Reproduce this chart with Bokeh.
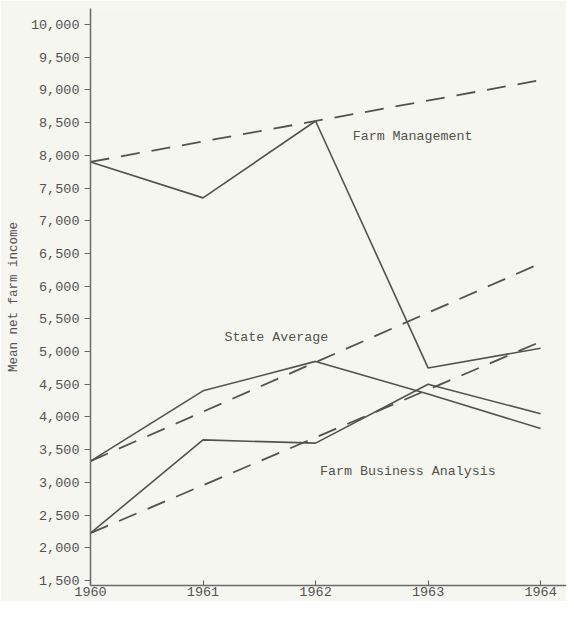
from bokeh.plotting import figure
from bokeh.models import FixedTicker, NumeralTickFormatter, Range1d
from bokeh.core.properties import value
from bokeh.embed import file_html
from bokeh.resources import INLINE

# ---- data ----
years = [1960, 1961, 1962, 1963, 1964]
farm_management = [7900, 7350, 8525, 4750, 5050]
state_average = [3325, 4400, 4850, 4350, 3825]
farm_business = [2225, 3650, 3600, 4500, 4050]

trend_years = [1960, 1964]
farm_management_trend = [7900, 9150]
state_average_trend = [3325, 6350]
farm_business_trend = [2225, 5150]

y_ticks = list(range(1500, 10001, 500))
x_ticks = [1960, 1961, 1962, 1963, 1964]
series_labels = ["Farm Management", "State Average", "Farm Business Analysis"]

FONT = "Liberation Mono"
INK = "#525252"
BG = "#f6f6f0"

p = figure(width=566, height=601, output_backend="svg", toolbar_location=None,
           x_range=Range1d(1960, 1964.23), y_range=Range1d(1424, 10245),
           min_border_left=90, min_border_right=0, min_border_top=8,
           min_border_bottom=16)
p.background_fill_color = BG
p.border_fill_color = BG
p.outline_line_color = None
p.grid.visible = False

# axes
p.yaxis.ticker = FixedTicker(ticks=y_ticks)
p.yaxis.formatter = NumeralTickFormatter(format="0,0")
p.yaxis.axis_label = "Mean net farm income"
p.yaxis.axis_label_text_font = FONT
p.yaxis.axis_label_text_font_style = "normal"
p.yaxis.axis_label_text_font_size = "12.5px"
p.yaxis.axis_label_text_color = INK
p.yaxis.axis_label_standoff = 7
p.yaxis.major_tick_out = 6
p.yaxis.major_tick_in = 0
p.yaxis.major_label_standoff = 5

p.xaxis.ticker = FixedTicker(ticks=x_ticks)
p.xaxis.major_tick_in = 5
p.xaxis.major_tick_out = 0
p.xaxis.major_label_standoff = 1

for ax in (p.xaxis, p.yaxis):
    ax.minor_tick_line_color = None
    ax.axis_line_color = "#6a6a6a"
    ax.axis_line_width = 1.5
    ax.major_tick_line_color = "#6a6a6a"
    ax.major_tick_line_width = 1.2
    ax.major_label_text_font = FONT
    ax.major_label_text_font_size = "13.5px"
    ax.major_label_text_color = INK

# actual series (solid)
for ys in (farm_management, state_average, farm_business):
    p.line(years, ys, line_color=INK, line_width=1.6)

# trend lines (dashed)
for ys in (farm_management_trend, state_average_trend, farm_business_trend):
    p.line(trend_years, ys, line_color=INK, line_width=1.8, line_dash="19 12")

# labels
p.text(x=[1962.33, 1961.19, 1962.04], y=[8290, 5217, 3166], text=series_labels,
       text_font=value(FONT), text_font_size="13.3px", text_color=INK,
       text_baseline="middle", text_align="left")

open("out.html", "w").write(file_html(p, INLINE))
